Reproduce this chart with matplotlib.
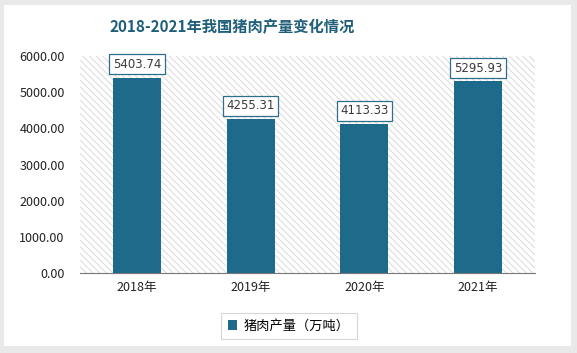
import matplotlib.pyplot as plt
from matplotlib.patches import Rectangle

plt.rcParams['font.family'] = ['Noto Sans CJK SC', 'DejaVu Sans']
plt.rcParams['hatch.linewidth'] = 0.6

years = ['2018年', '2019年', '2020年', '2021年']
output = [5403.74, 4255.31, 4113.33, 5295.93]
yticks = [0, 1000, 2000, 3000, 4000, 5000, 6000]

bar_color = '#1d6a8b'

fig = plt.figure(figsize=(5.77, 3.53), dpi=100)
fig.patch.set_facecolor('#e9e9e9')
# white card
card = Rectangle((4 / 577, 7 / 353), 567 / 577, 341 / 353,
                 transform=fig.transFigure, facecolor='white',
                 edgecolor='none', zorder=-10)
fig.add_artist(card)

ax = fig.add_axes([80 / 577, 1 - 273 / 353, 455 / 577, 217 / 353])
ax.set_facecolor('none')
# hatched background
ax.add_patch(Rectangle((0, 0), 1, 1, transform=ax.transAxes, facecolor='white',
                       edgecolor='#d4d4d4', hatch='\\\\\\\\\\', linewidth=0, zorder=0))

x = range(len(years))
bars = ax.bar(x, output, width=0.42, color=bar_color, zorder=2, label='猪肉产量（万吨）')

for xi, v in zip(x, output):
    ax.annotate(f'{v:.2f}', (xi, v), xytext=(0, 5), textcoords='offset points',
                ha='center', va='bottom', fontsize=8.5, color='#3a3a3a',
                family=['DejaVu Sans'],
                bbox=dict(boxstyle='square,pad=0.3', facecolor='white',
                          edgecolor='#2b6f8c', linewidth=0.9), zorder=3)

ax.set_xlim(-0.5, 3.5)
ax.set_ylim(0, 6000)
ax.set_yticks(yticks)
ax.set_yticklabels([f'{t:.2f}' for t in yticks], fontsize=9, color='#222222')
ax.set_xticks(list(x))
ax.set_xticklabels(years, fontsize=9, color='#222222')
ax.tick_params(axis='both', length=0, pad=6)
ax.tick_params(axis='y', pad=11)
for s in ['top', 'right', 'left']:
    ax.spines[s].set_visible(False)
ax.spines['bottom'].set_color('#777777')
ax.spines['bottom'].set_linewidth(0.8)

fig.text(232 / 577, 1 - 27 / 353, '2018-2021年我国猪肉产量变化情况', ha='center', va='center',
         fontsize=11, fontweight='bold', color='#1f5f7a')

leg = fig.legend(loc='center', bbox_to_anchor=(289 / 577, 1 - 326 / 353), fontsize=9.5,
                 frameon=True, fancybox=False, edgecolor='#cccccc', handlelength=0.7,
                 handleheight=0.7, handletextpad=0.5, borderpad=0.5)
leg.get_frame().set_linewidth(0.8)

fig.savefig('out.png', dpi=100)
